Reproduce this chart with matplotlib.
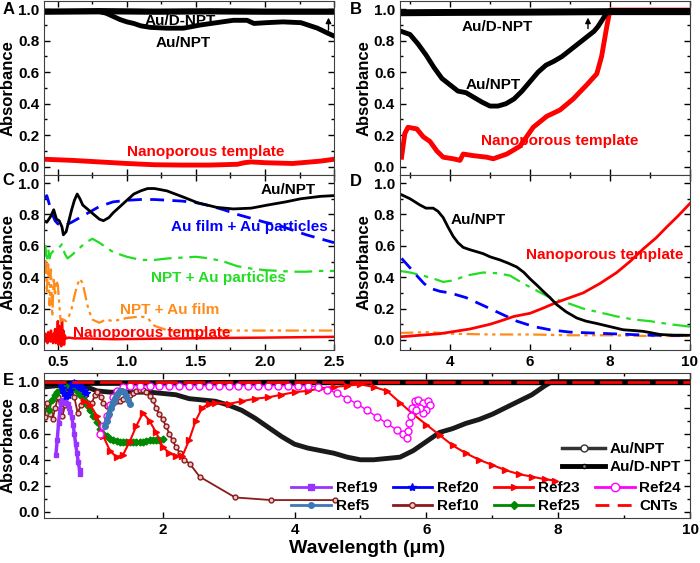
import matplotlib
matplotlib.use('Agg')
import matplotlib.pyplot as plt
from matplotlib.lines import Line2D
from matplotlib.ticker import MultipleLocator

plt.rcParams['font.family'] = ['Liberation Sans', 'DejaVu Sans']
plt.rcParams['font.weight'] = 'bold'
plt.rcParams['axes.labelweight'] = 'bold'
plt.rcParams['font.size'] = 11

# ---- panel A (0.4 - 2.5 um)
xA_dnpt = [0.40, 0.80, 1.20, 1.60, 2.00, 2.50]
yA_dnpt = [0.985, 0.988, 0.985, 0.987, 0.985, 0.985]
xA_npt = [0.40, 0.60, 0.80, 0.85, 0.90, 0.95, 1.00, 1.05, 1.10, 1.17, 1.29, 1.41, 1.53, 1.65,
          1.77, 1.87, 1.92, 2.01, 2.13, 2.26, 2.38, 2.45, 2.50]
yA_npt = [0.985, 0.985, 0.985, 0.975, 0.955, 0.935, 0.92, 0.91, 0.895, 0.885, 0.88, 0.88, 0.90, 0.915,
          0.93, 0.93, 0.91, 0.915, 0.92, 0.915, 0.88, 0.85, 0.83]
xA_np = [0.40, 0.60, 0.80, 1.00, 1.20, 1.40, 1.60, 1.80, 1.85, 1.90, 2.00, 2.20, 2.40, 2.50]
yA_np = [0.047, 0.04, 0.03, 0.02, 0.012, 0.01, 0.01, 0.015, 0.025, 0.03, 0.025, 0.02, 0.035, 0.047]

# ---- panel B (2.75 - 10 um)
xB_dnpt = [2.75, 4.00, 6.00, 8.00, 10.0]
yB_dnpt = [0.978, 0.98, 0.982, 0.985, 0.985]
xB_npt = [2.78, 3.0, 3.2, 3.4, 3.6, 3.8, 4.0, 4.2, 4.4, 4.6, 4.8, 5.0, 5.2, 5.4, 5.6, 5.8, 6.0, 6.2,
          6.4, 6.6, 6.8, 7.0, 7.2, 7.4, 7.6, 7.7, 7.8, 7.9, 8.0, 10.0]
yB_npt = [0.86, 0.84, 0.78, 0.71, 0.63, 0.56, 0.52, 0.48, 0.47, 0.44, 0.41, 0.385, 0.385, 0.40, 0.43,
          0.48, 0.54, 0.60, 0.645, 0.67, 0.70, 0.74, 0.78, 0.82, 0.86, 0.89, 0.93, 0.97, 0.99, 0.99]
xB_np = [2.79, 2.87, 2.95, 3.17, 3.33, 3.50, 3.67, 3.83, 4.08, 4.25, 4.33, 4.58, 4.92, 5.08, 5.42,
         5.75, 6.08, 6.42, 6.75, 7.08, 7.42, 7.67, 7.79, 7.92, 8.00, 10.0]
yB_np = [0.06, 0.21, 0.25, 0.24, 0.19, 0.16, 0.10, 0.06, 0.05, 0.04, 0.08, 0.07, 0.06, 0.05, 0.08,
         0.13, 0.25, 0.32, 0.36, 0.43, 0.52, 0.59, 0.70, 0.89, 0.995, 0.995]

# ---- panel C (0.4 - 2.5 um)
xC_npt = [0.40, 0.42, 0.45, 0.47, 0.49, 0.51, 0.53, 0.54, 0.56, 0.58, 0.60, 0.62, 0.64, 0.66, 0.68,
          0.72, 0.76, 0.80, 0.83, 0.87, 0.90, 0.95, 1.00, 1.05, 1.10, 1.15, 1.20, 1.29, 1.41, 1.51,
          1.65, 1.77, 1.90, 2.02, 2.15, 2.26, 2.40, 2.50]
yC_npt = [0.76, 0.75, 0.79, 0.83, 0.77, 0.76, 0.72, 0.67, 0.69, 0.76, 0.83, 0.89, 0.93, 0.90, 0.86,
          0.83, 0.80, 0.77, 0.76, 0.78, 0.81, 0.85, 0.89, 0.93, 0.95, 0.965, 0.965, 0.95, 0.91, 0.875,
          0.845, 0.835, 0.84, 0.86, 0.88, 0.90, 0.915, 0.92]
xC_film_part = [0.40, 0.42, 0.44, 0.46, 0.48, 0.50, 0.52, 0.55, 0.60, 0.70, 0.80, 0.90, 1.00, 1.10,
                1.20, 1.30, 1.40, 1.50, 1.60, 1.70, 1.80, 1.90, 2.00, 2.10, 2.20, 2.30, 2.40, 2.50]
yC_film_part = [0.90, 0.92, 0.86, 0.80, 0.76, 0.74, 0.73, 0.73, 0.75, 0.80, 0.85, 0.88, 0.89, 0.895,
                0.895, 0.89, 0.885, 0.875, 0.855, 0.83, 0.80, 0.775, 0.75, 0.73, 0.70, 0.67, 0.645, 0.62]
xC_npt_part = [0.40, 0.41, 0.42, 0.43, 0.44, 0.45, 0.47, 0.50, 0.53, 0.55, 0.57, 0.60, 0.65, 0.70,
               0.75, 0.80, 0.85, 0.90, 1.00, 1.10, 1.20, 1.30, 1.40, 1.50, 1.60, 1.70, 1.80, 1.90,
               2.00, 2.10, 2.20, 2.30, 2.40, 2.50]
yC_npt_part = [0.56, 0.60, 0.50, 0.58, 0.52, 0.55, 0.57, 0.58, 0.61, 0.55, 0.52, 0.54, 0.58, 0.62,
               0.645, 0.62, 0.59, 0.56, 0.53, 0.51, 0.51, 0.52, 0.525, 0.53, 0.52, 0.50, 0.47, 0.455,
               0.445, 0.44, 0.435, 0.435, 0.44, 0.44]
xC_npt_film = [0.40, 0.41, 0.42, 0.43, 0.44, 0.45, 0.46, 0.47, 0.48, 0.49, 0.50, 0.52, 0.54, 0.56,
               0.58, 0.60, 0.62, 0.64, 0.66, 0.68, 0.70, 0.72, 0.75, 0.80, 0.85, 0.90, 1.00, 1.10,
               1.15, 1.20, 1.30, 1.50, 2.00, 2.50]
yC_npt_film = [0.42, 0.57, 0.30, 0.50, 0.22, 0.45, 0.15, 0.40, 0.28, 0.38, 0.35, 0.12, 0.13, 0.12,
               0.15, 0.20, 0.28, 0.35, 0.39, 0.36, 0.28, 0.20, 0.13, 0.11, 0.13, 0.12, 0.14, 0.15,
               0.14, 0.09, 0.06, 0.06, 0.06, 0.06]
xC_np = [0.40, 0.405, 0.41, 0.415, 0.42, 0.425, 0.43, 0.435, 0.44, 0.445, 0.45, 0.455, 0.46, 0.465,
         0.47, 0.475, 0.48, 0.485, 0.49, 0.495, 0.50, 0.505, 0.51, 0.515, 0.52, 0.525, 0.53, 0.535,
         0.54, 0.545, 0.55, 0.56, 0.58, 0.62, 0.70, 0.90, 1.20, 1.60, 2.00, 2.50]
yC_np = [0.02, -0.01, 0.04, 0.0, 0.03, -0.02, 0.05, 0.01, 0.02, -0.01, 0.06, 0.0, 0.03, -0.02,
         0.04, 0.01, 0.07, -0.02, 0.03, 0.0, 0.12, -0.03, 0.09, 0.0, 0.05, -0.04, 0.13, 0.01,
         0.06, -0.03, 0.03, 0.01, 0.015, 0.01, 0.01, 0.005, 0.008, 0.012, 0.015, 0.02]

# ---- panel D (2.75 - 10 um)
xD_npt = [2.75, 3.00, 3.25, 3.40, 3.58, 3.70, 3.83, 3.95, 4.08, 4.20, 4.33, 4.50, 4.70, 4.83, 5.00,
          5.25, 5.45, 5.67, 5.85, 6.00, 6.17, 6.33, 6.50, 6.67, 6.90, 7.17, 7.40, 7.67, 8.00, 8.33,
          8.60, 8.83, 9.05, 9.25, 9.60, 10.0]
yD_npt = [0.93, 0.90, 0.86, 0.84, 0.84, 0.82, 0.78, 0.72, 0.66, 0.62, 0.59, 0.575, 0.56, 0.55, 0.53,
          0.51, 0.49, 0.465, 0.43, 0.39, 0.35, 0.31, 0.27, 0.225, 0.18, 0.14, 0.12, 0.105, 0.085,
          0.065, 0.06, 0.055, 0.045, 0.035, 0.03, 0.03]
xD_np = [2.75, 3.25, 3.75, 4.00, 4.50, 5.00, 5.25, 5.60, 6.00, 6.30, 6.67, 7.00, 7.33, 7.75, 8.17,
         8.50, 8.83, 9.15, 9.42, 9.70, 10.0]
yD_np = [0.02, 0.03, 0.04, 0.05, 0.07, 0.10, 0.12, 0.15, 0.17, 0.20, 0.24, 0.27, 0.30, 0.36, 0.43,
         0.50, 0.58, 0.65, 0.72, 0.79, 0.87]
xD_film_part = [2.79, 3.00, 3.17, 3.35, 3.50, 3.75, 4.00, 4.40, 4.83, 5.25, 5.67, 6.10, 6.50, 7.00,
                7.50, 8.00, 8.50, 9.00, 9.50, 10.0]
yD_film_part = [0.52, 0.46, 0.41, 0.36, 0.33, 0.31, 0.30, 0.27, 0.22, 0.17, 0.12, 0.085, 0.065, 0.05,
                0.045, 0.04, 0.035, 0.03, 0.03, 0.03]
xD_npt_part = [2.75, 3.00, 3.33, 3.60, 3.83, 4.10, 4.40, 4.83, 5.20, 5.50, 5.83, 6.20, 6.50, 7.00,
               7.33, 7.75, 8.17, 8.60, 9.00, 9.50, 10.0]
yD_npt_part = [0.44, 0.43, 0.41, 0.39, 0.37, 0.38, 0.41, 0.43, 0.425, 0.41, 0.36, 0.31, 0.27, 0.23,
               0.20, 0.175, 0.15, 0.13, 0.12, 0.10, 0.085]
xD_npt_film = [2.75, 3.50, 4.00, 5.00, 6.00, 7.00, 8.00, 9.00, 10.0]
yD_npt_film = [0.045, 0.05, 0.04, 0.035, 0.035, 0.03, 0.03, 0.025, 0.025]

# ---- panel E (comparison with references)
xE_npt = [0.2, 0.4, 0.6, 0.8, 0.9, 1.0, 1.2, 1.4, 1.6, 1.8, 2.0, 2.2, 2.4, 2.6, 2.8, 3.0, 3.2, 3.4,
          3.6, 3.8, 4.0, 4.2, 4.4, 4.6, 4.8, 5.0, 5.2, 5.4, 5.6, 5.8, 6.0, 6.2, 6.4, 6.6, 6.8, 7.0,
          7.2, 7.4, 7.6, 7.8, 7.9, 8.0, 10.0]
yE_npt = [0.96, 0.97, 0.97, 0.97, 0.95, 0.93, 0.92, 0.92, 0.92, 0.92, 0.91, 0.90, 0.87, 0.86, 0.85,
          0.82, 0.78, 0.72, 0.65, 0.58, 0.52, 0.49, 0.47, 0.45, 0.42, 0.40, 0.40, 0.41, 0.42, 0.47,
          0.54, 0.61, 0.64, 0.68, 0.71, 0.75, 0.80, 0.85, 0.90, 0.97, 1.0, 1.0, 1.0]
xE_dnpt = [0.2, 2.0, 4.0, 6.0, 8.0, 10.0]
yE_dnpt = [0.99, 0.99, 0.995, 0.995, 0.995, 0.995]
x_cnt = [0.2, 10.0]
y_cnt = [1.0, 1.0]
x19 = [0.38, 0.40, 0.42, 0.44, 0.46, 0.48, 0.50, 0.52, 0.54, 0.56, 0.58, 0.60, 0.62, 0.64, 0.66,
       0.68, 0.70, 0.72, 0.74, 0.75]
y19 = [0.44, 0.55, 0.68, 0.78, 0.84, 0.86, 0.86, 0.85, 0.84, 0.83, 0.80, 0.77, 0.73, 0.67, 0.60,
       0.52, 0.45, 0.38, 0.32, 0.29]
x20 = [0.45, 0.48, 0.51, 0.54, 0.57, 0.60, 0.63, 0.66, 0.69, 0.72, 0.75, 0.78, 0.81, 0.84]
y20 = [0.98, 0.95, 0.91, 0.89, 0.90, 0.94, 0.98, 0.99, 0.98, 0.97, 0.96, 0.95, 0.93, 0.91]
x23 = [0.80, 0.90, 1.00, 1.10, 1.20, 1.30, 1.40, 1.50, 1.60, 1.70, 1.80, 1.90, 2.00, 2.10, 2.20,
       2.30, 2.40, 2.50, 2.60, 2.70, 2.80, 3.00, 3.20, 3.40, 3.60, 3.80, 4.00, 4.20, 4.40, 4.60,
       4.80, 5.00, 5.20, 5.40, 5.60, 5.80, 6.00, 6.20, 6.40, 6.60, 6.80, 7.00, 7.20, 7.40, 7.60,
       7.80, 7.95]
y23 = [0.85, 0.82, 0.74, 0.58, 0.47, 0.42, 0.44, 0.54, 0.66, 0.76, 0.70, 0.61, 0.50, 0.45, 0.43,
       0.43, 0.55, 0.70, 0.80, 0.83, 0.84, 0.83, 0.85, 0.87, 0.88, 0.90, 0.92, 0.93, 0.95, 0.96,
       0.97, 0.98, 0.96, 0.93, 0.84, 0.75, 0.67, 0.59, 0.51, 0.45, 0.40, 0.36, 0.32, 0.29, 0.27,
       0.25, 0.24]
x24 = [1.05, 1.10, 1.15, 1.20, 1.25, 1.30, 1.40, 1.50, 1.65, 1.80, 1.95, 2.10, 2.25, 2.40, 2.55,
       2.70, 2.85, 3.00, 3.15, 3.30, 3.45, 3.60, 3.75, 3.90, 4.05, 4.20, 4.35, 4.50, 4.65, 4.80,
       4.95, 5.10, 5.25, 5.40, 5.55, 5.65, 5.70, 5.72, 5.74, 5.76, 5.78, 5.82, 5.88, 5.95, 6.02,
       6.05, 6.00, 5.95, 5.90, 5.85]
y24 = [0.60, 0.66, 0.74, 0.82, 0.88, 0.93, 0.96, 0.97, 0.97, 0.97, 0.97, 0.97, 0.97, 0.97, 0.97,
       0.97, 0.97, 0.97, 0.97, 0.97, 0.97, 0.97, 0.97, 0.97, 0.97, 0.97, 0.96, 0.94, 0.91, 0.87,
       0.83, 0.78, 0.73, 0.68, 0.63, 0.60, 0.57, 0.62, 0.68, 0.74, 0.80, 0.85, 0.86, 0.84, 0.85,
       0.82, 0.78, 0.76, 0.80, 0.78]
x5 = [1.12, 1.15, 1.18, 1.21, 1.24, 1.27, 1.30, 1.33, 1.36, 1.39, 1.42, 1.45, 1.48, 1.50]
y5 = [0.66, 0.70, 0.75, 0.80, 0.84, 0.87, 0.90, 0.92, 0.93, 0.93, 0.92, 0.89, 0.86, 0.83]
x10 = [0.21, 0.25, 0.29, 0.33, 0.37, 0.41, 0.45, 0.48, 0.52, 0.56, 0.61, 0.66, 0.71, 0.76, 0.82,
       0.86, 0.89, 0.93, 0.97, 1.01, 1.06, 1.10, 1.15, 1.20, 1.25, 1.30, 1.35, 1.40, 1.45, 1.50,
       1.55, 1.60, 1.65, 1.70, 1.75, 1.80, 1.85, 1.90, 1.95, 2.00, 2.05, 2.10, 2.15, 2.20, 2.26,
       2.33, 2.41, 2.56, 3.10, 3.65, 4.61]
y10 = [0.73, 0.84, 0.75, 0.71, 0.80, 0.88, 0.80, 0.74, 0.82, 0.92, 0.97, 0.88, 0.76, 0.82, 0.90,
       0.84, 0.78, 0.84, 0.90, 0.92, 0.88, 0.84, 0.81, 0.82, 0.84, 0.85, 0.85, 0.87, 0.89, 0.90,
       0.91, 0.93, 0.94, 0.94, 0.92, 0.89, 0.86, 0.80, 0.75, 0.71, 0.66, 0.60, 0.55, 0.50, 0.45,
       0.40, 0.37, 0.27, 0.11, 0.09, 0.09]
x25 = [0.28, 0.32, 0.36, 0.40, 0.45, 0.50, 0.55, 0.60, 0.65, 0.70, 0.75, 0.80, 0.85, 0.90, 0.95,
       1.00, 1.05, 1.10, 1.15, 1.20, 1.25, 1.30, 1.35, 1.40, 1.45, 1.50, 1.55, 1.60, 1.65, 1.70,
       1.75, 1.80, 1.85, 1.90, 1.95, 2.00]
y25 = [0.78, 0.86, 0.90, 0.92, 0.94, 0.95, 0.96, 0.96, 0.95, 0.93, 0.90, 0.86, 0.82, 0.78, 0.74,
       0.69, 0.64, 0.60, 0.58, 0.56, 0.55, 0.545, 0.54, 0.54, 0.54, 0.54, 0.54, 0.54, 0.54, 0.54,
       0.545, 0.55, 0.55, 0.55, 0.555, 0.56]

BLUE = '#0000ff'
GREEN = '#22dd22'
ORANGE = '#ff8c1a'
RED = '#ff0000'
dash_blue = (0, (5, 3))
dash_green = (0, (8, 3, 2, 3))
dash_orange = (0, (6, 2, 1.5, 2, 1.5, 2))

fig = plt.figure(figsize=(7.0, 5.63), dpi=100)
axA = fig.add_axes([0.0629, 0.6892, 0.4143, 0.3091])
axB = fig.add_axes([0.5714, 0.6892, 0.4143, 0.3091])
axC = fig.add_axes([0.0629, 0.3783, 0.4143, 0.3108])
axD = fig.add_axes([0.5714, 0.3783, 0.4143, 0.3108])
axE = fig.add_axes([0.0629, 0.0799, 0.9229, 0.2575])


def style(ax, xlim, ylim, xmaj, xmin, labels=True):
    ax.set_xlim(*xlim)
    ax.set_ylim(*ylim)
    ax.xaxis.set_major_locator(MultipleLocator(xmaj))
    if xmin:
        ax.xaxis.set_minor_locator(MultipleLocator(xmin))
    ax.yaxis.set_major_locator(MultipleLocator(0.2))
    ax.yaxis.set_minor_locator(MultipleLocator(0.1))
    ax.tick_params(which='both', direction='in', top=True, right=True, labelsize=11, width=1)
    ax.tick_params(which='major', length=4)
    ax.tick_params(which='minor', length=2)
    if not labels:
        ax.tick_params(labelbottom=False)
    for s in ax.spines.values():
        s.set_color('0.25')
    ax.set_ylabel('Absorbance', fontsize=12, labelpad=2)


# A
axA.plot(xA_dnpt, yA_dnpt, color='k', lw=4.5)
axA.plot(xA_npt, yA_npt, color='k', lw=3.5)
axA.plot(xA_np, yA_np, color=RED, lw=3.5)
axA.annotate('', xy=(2.46, 0.965), xytext=(2.46, 0.85),
             arrowprops=dict(arrowstyle='-|>', color='k', lw=1, mutation_scale=8))
axA.text(1.385, 0.926, 'Au/D-NPT', ha='center', va='center', fontsize=11)
axA.text(1.41, 0.786, 'Au/NPT', ha='center', va='center', fontsize=11)
axA.text(1.567, 0.093, 'Nanoporous template', ha='center', va='center', fontsize=11, color=RED)
style(axA, (0.4, 2.5), (-0.053, 1.053), 0.5, 0.25, labels=False)

# B
axB.plot(xB_np, yB_np, color=RED, lw=3.5)
axB.plot(xB_npt, yB_npt, color='k', lw=3.5)
axB.plot(xB_dnpt, yB_dnpt, color='k', lw=5)
axB.annotate('', xy=(7.45, 0.965), xytext=(7.45, 0.86),
             arrowprops=dict(arrowstyle='-|>', color='k', lw=1, mutation_scale=8))
axB.text(5.17, 0.888, 'Au/D-NPT', ha='center', va='center', fontsize=11)
axB.text(5.08, 0.52, 'Au/NPT', ha='center', va='center', fontsize=11)
axB.text(6.75, 0.163, 'Nanoporous template', ha='center', va='center', fontsize=11, color=RED)
style(axB, (2.75, 10), (-0.053, 1.053), 2, 1, labels=False)

# C
axC.plot(xC_np, yC_np, color=RED, lw=1.8)
axC.plot(xC_npt_film, yC_npt_film, color=ORANGE, lw=1.6, ls=dash_orange)
axC.plot(xC_npt_part, yC_npt_part, color=GREEN, lw=1.6, ls=dash_green)
axC.plot(xC_film_part, yC_film_part, color=BLUE, lw=2, ls=dash_blue)
axC.plot(xC_npt, yC_npt, color='k', lw=2)
axC.text(2.17, 0.955, 'Au/NPT', ha='center', va='center', fontsize=11)
axC.text(1.89, 0.72, 'Au film + Au particles', ha='center', va='center', fontsize=11, color=BLUE)
axC.text(1.66, 0.395, 'NPT + Au particles', ha='center', va='center', fontsize=11, color=GREEN)
axC.text(1.31, 0.19, 'NPT + Au film', ha='center', va='center', fontsize=11, color=ORANGE)
axC.text(1.18, 0.045, 'Nanoporous template', ha='center', va='center', fontsize=11, color=RED)
style(axC, (0.4, 2.5), (-0.064, 1.051), 0.5, 0.25)

# D
axD.plot(xD_npt_film, yD_npt_film, color=ORANGE, lw=1.6, ls=dash_orange)
axD.plot(xD_npt_part, yD_npt_part, color=GREEN, lw=1.6, ls=dash_green)
axD.plot(xD_film_part, yD_film_part, color=BLUE, lw=2, ls=dash_blue)
axD.plot(xD_np, yD_np, color=RED, lw=2)
axD.plot(xD_npt, yD_npt, color='k', lw=2)
axD.text(4.7, 0.764, 'Au/NPT', ha='center', va='center', fontsize=11)
axD.text(7.88, 0.54, 'Nanoporous template', ha='center', va='center', fontsize=11, color=RED)
style(axD, (2.75, 10), (-0.064, 1.051), 2, 1)

# E
axE.plot(xE_npt, yE_npt, color='0.1', lw=3.5)
axE.plot(xE_dnpt, yE_dnpt, color='k', lw=4)
axE.plot(x10, y10, color='#8b1a1a', lw=1.3, marker='o', ms=3.5, mfc='#e8c8c8', mew=1)
axE.plot(x25, y25, color='#008800', lw=1.5, marker='D', ms=3.5)
axE.plot(x19, y19, color='#9933ff', lw=2.5, marker='s', ms=3.5)
axE.plot(x20, y20, color=BLUE, lw=2, marker='*', ms=6)
axE.plot(x23, y23, color=RED, lw=1.5, marker='>', ms=5)
axE.plot(x24, y24, color='#ff00ff', lw=1, marker='o', ms=5, mfc='white', mew=1)
axE.plot(x5, y5, color='#3c78b4', lw=3.5, marker='o', ms=4)
axE.plot(x_cnt, y_cnt, color=RED, lw=2, ls=(0, (8, 2)))
style(axE, (0.2, 10), (-0.048, 1.067), 2, 1)
axE.set_xlabel('Wavelength (\u03bcm)', fontsize=14, labelpad=2)

h_own = [Line2D([], [], color='0.2', lw=2.5, marker='o', ms=5, mfc='white', mec='0.2'),
         Line2D([], [], color='k', lw=3.5, marker='o', ms=3, mfc='0.5', mec='k')]
leg1 = axE.legend(h_own, ['Au/NPT', 'Au/D-NPT'], loc='lower right', bbox_to_anchor=(1.0, 0.24),
                  frameon=False, fontsize=11, handlelength=2.8, labelspacing=0.25,
                  borderpad=0.1, handletextpad=0.3)
axE.add_artist(leg1)

h_ref = [Line2D([], [], color='#9933ff', lw=2, marker='s', ms=4),
         Line2D([], [], color='#3c78b4', lw=2, marker='o', ms=4),
         Line2D([], [], color=BLUE, lw=2, marker='*', ms=6),
         Line2D([], [], color='#8b1a1a', lw=2, marker='o', ms=4, mfc='#e8c8c8'),
         Line2D([], [], color=RED, lw=2, marker='>', ms=5),
         Line2D([], [], color='#008800', lw=2, marker='D', ms=4),
         Line2D([], [], color='#ff00ff', lw=2, marker='o', ms=6, mfc='white'),
         Line2D([], [], color=RED, lw=2, ls=(0, (5, 3)))]
l_ref = ['Ref19', 'Ref5', 'Ref20', 'Ref10', 'Ref23', 'Ref25', 'Ref24', 'CNTs']
axE.legend(h_ref, l_ref, ncol=4, loc='lower right', bbox_to_anchor=(1.0, -0.03), frameon=False,
           fontsize=11, handlelength=2.6, columnspacing=1.0, labelspacing=0.25,
           borderpad=0.1, handletextpad=0.3)

for lab, (xf, yf) in zip('ABCDE', [(0.004, 0.983), (0.5, 0.983), (0.004, 0.68),
                                    (0.5, 0.677), (0.004, 0.325)]):
    fig.text(xf, yf, lab, fontsize=12, fontweight='bold', va='center')

fig.savefig('out.png', dpi=100)
